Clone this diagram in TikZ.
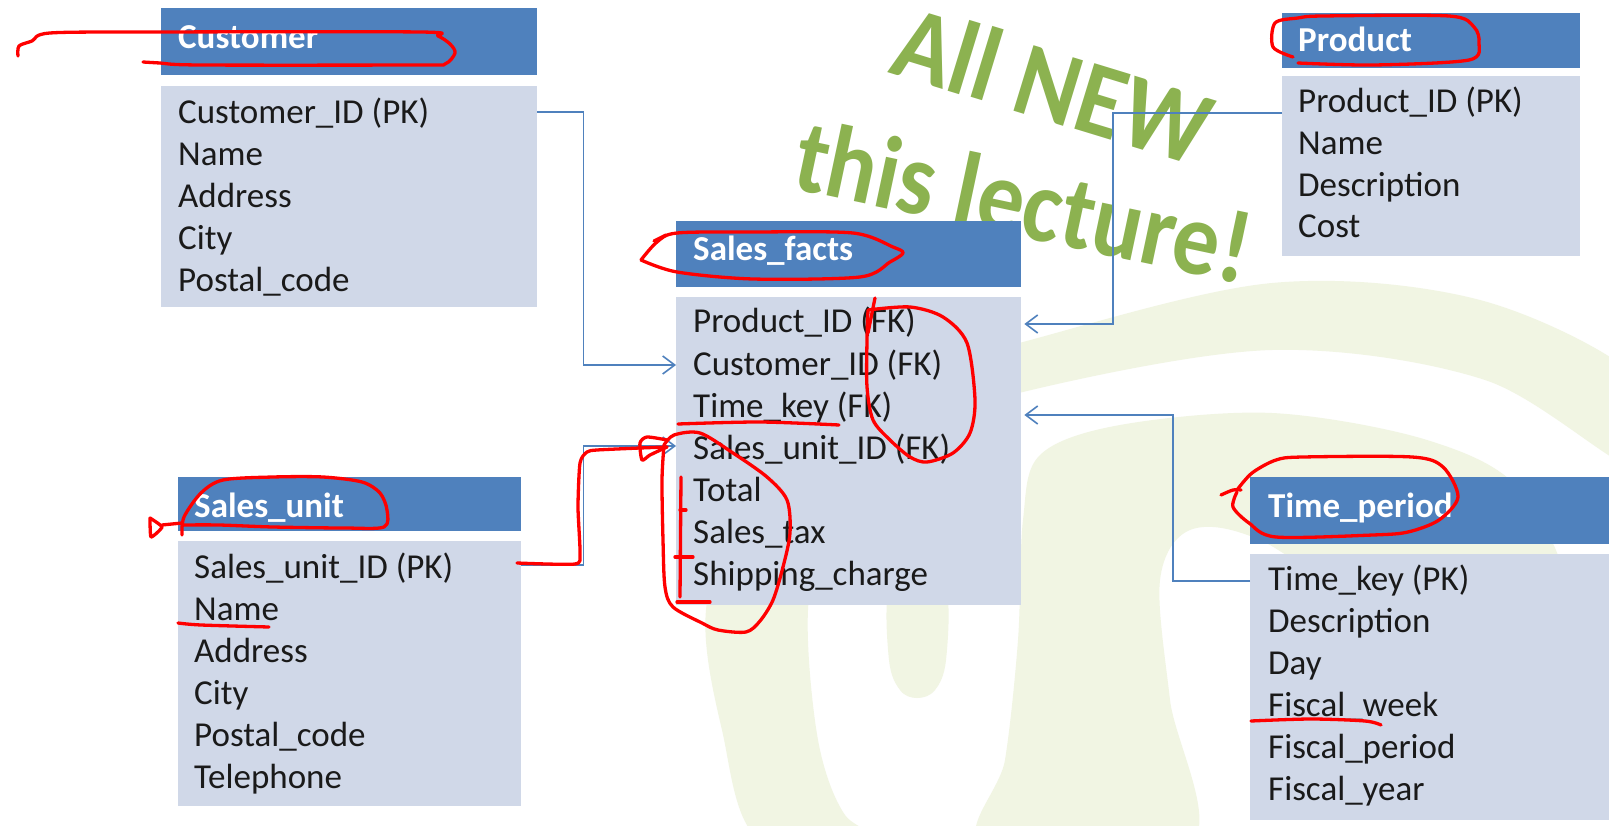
\documentclass[tikz,border=0pt]{standalone}
\usepackage{fontspec}
\setmainfont{Carlito}
\usetikzlibrary{arrows.meta}
\definecolor{hdrblue}{HTML}{4F81BD}
\definecolor{bodyblue}{HTML}{D0D8E8}
\definecolor{wash}{HTML}{F1F5E3}
\definecolor{wagreen}{HTML}{8CB250}
\definecolor{txt}{HTML}{1A1A1A}
\begin{document}
\begin{tikzpicture}[x=1pt,y=-1pt,
  font=\fontsize{35}{42}\selectfont,
  hdr/.style={fill=hdrblue, draw=none, inner sep=0pt, anchor=north west},
  bdy/.style={fill=bodyblue, draw=none, inner sep=0pt, anchor=north west},
  row/.style={anchor=base west, inner sep=0pt, text=txt},
  ttl/.style={anchor=base west, inner sep=0pt, text=white, font=\fontsize{35}{42}\selectfont\bfseries},
  conn/.style={draw=hdrblue, line width=1.6pt, -{Straight Barb[length=12pt,width=18pt,line width=1.6pt]}},
  ink/.style={draw=red, line width=3.3pt, line cap=round, line join=round},
  wa/.style={anchor=base west, inner sep=0pt, text=wagreen}]
\useasboundingbox (0,0) rectangle (1609,826);
\fill[white] (0,0) rectangle (1609,826);

% watermark
\fill[wash] plot[smooth cycle, tension=0.55] coordinates {(1640,380) (1480,300) (1272,283) (1023,342) (850,395) (745,490) (706,610) (722,730) (760,840) (890,845) (845,815) (818,740) (808,610) (830,500) (900,440) (1023,392) (1272,350) (1485,380) (1640,470)};
\fill[wash] plot[smooth cycle, tension=0.55] coordinates {(985,845) (1005,760) (1018,640) (1023,520) (1040,455) (1120,425) (1272,413) (1427,440) (1520,490) (1560,600) (1400,620) (1260,540) (1190,530) (1160,580) (1170,700) (1190,845)};
\fill[wash] plot[smooth cycle, tension=0.6] coordinates {(889,590) (889,660) (900,690) (917,698) (935,690) (946,660) (946,590) (917,580)};

% WordArt
\node[wa, font=\fontsize{96}{100}\selectfont\bfseries, rotate=-17, yscale=1.1] (wa1) at (887,72) {All NEW};
\node[wa, font=\fontsize{93}{100}\selectfont\bfseries, rotate=-12, yscale=1.12] (wa2) at (790,188) {this lecture!};

% Customer
\node[hdr, minimum width=376pt, minimum height=67pt] (custH) at (161,8) {};
\node[bdy, minimum width=376pt, minimum height=221pt] (custB) at (161,86) {};
\node[ttl] (cu0) at (178,49) {Customer};
\node[row] (cu1) at (178,124) {Customer\_ID (PK)};
\node[row] (cu2) at (178,166) {Name};
\node[row] (cu3) at (178,208) {Address};
\node[row] (cu4) at (178,250) {City};
\node[row] (cu5) at (178,292) {Postal\_code};

% Product
\node[hdr, minimum width=298pt, minimum height=55pt] (prodH) at (1282,13) {};
\node[bdy, minimum width=298pt, minimum height=180pt] (prodB) at (1282,76) {};
\node[ttl] (pr0) at (1298,52) {Product};
\node[row] (pr1) at (1298,113) {Product\_ID (PK)};
\node[row] (pr2) at (1298,155) {Name};
\node[row] (pr3) at (1298,197) {Description};
\node[row] (pr4) at (1298,238) {Cost};

% Sales_facts
\node[hdr, minimum width=345pt, minimum height=66pt] (factsH) at (676,221) {};
\node[bdy, minimum width=345pt, minimum height=308pt] (factsB) at (676,297) {};
\node[ttl] (sf0) at (693,261) {Sales\_facts};
\node[row] (sf1) at (693,333) {Product\_ID (FK)};
\node[row] (sf2) at (693,375) {Customer\_ID (FK)};
\node[row] (sf3) at (693,417) {Time\_key (FK)};
\node[row] (sf4) at (693,459) {Sales\_unit\_ID (FK)};
\node[row] (sf5) at (693,501) {Total};
\node[row] (sf6) at (693,543) {Sales\_tax};
\node[row] (sf7) at (693,585) {Shipping\_charge};

% Sales_unit
\node[hdr, minimum width=343pt, minimum height=54pt] (suH) at (178,477) {};
\node[bdy, minimum width=343pt, minimum height=265pt] (suB) at (178,541) {};
\node[ttl] (su0) at (194,517) {Sales\_unit};
\node[row] (su1) at (194,578) {Sales\_unit\_ID (PK)};
\node[row] (su2) at (194,620) {Name};
\node[row] (su3) at (194,662) {Address};
\node[row] (su4) at (194,704) {City};
\node[row] (su5) at (194,746) {Postal\_code};
\node[row] (su6) at (194,788) {Telephone};

% Time_period
\node[hdr, minimum width=359pt, minimum height=67pt] (timeH) at (1250,477) {};
\node[bdy, minimum width=359pt, minimum height=266pt] (timeB) at (1250,554) {};
\node[ttl] (tp0) at (1268,517) {Time\_period};
\node[row] (tp1) at (1268,590) {Time\_key (PK)};
\node[row] (tp2) at (1268,632) {Description};
\node[row] (tp3) at (1268,674) {Day};
\node[row] (tp4) at (1268,716) {Fiscal\_week};
\node[row] (tp5) at (1268,758) {Fiscal\_period};
\node[row] (tp6) at (1268,800) {Fiscal\_year};

% connectors
\draw[conn] ([yshift=-26pt]custB.north east) -- ++(46,0) |- ([yshift=-68pt]factsB.north west);
\draw[conn] ([yshift=-37pt]prodB.north west) -- ++(-169,0) |- ([yshift=-27pt,xshift=3pt]factsB.north east);
\draw[conn] ([yshift=-27pt]timeB.north west) -- ++(-77,0) |- ([yshift=-118pt,xshift=3pt]factsB.north east);
\draw[conn] ([yshift=-24pt]suB.north east) -- ++(62,0) |- ([yshift=-149pt]factsB.north west);

% red ink
\draw[ink] plot[smooth, tension=0.5] coordinates {(18,56) (19,46) (32,41) (50,33) (155,32) (420,32) (438,36) (450,44) (455,53) (445,64) (420,65) (200,65) (160,63) (143,62)};
\draw[ink] plot[smooth, tension=0.5] coordinates {(1293,57) (1273,47) (1275,23) (1298,18) (1323,16) (1449,16) (1474,27) (1479,43) (1469,60) (1374,65) (1298,63)};
\draw[ink] plot[smooth, tension=0.5] coordinates {(641,260) (657,242) (677,233) (753,232) (853,233) (893,247) (903,253) (890,262) (860,277) (753,279) (677,272) (641,260)};
\draw[ink] (654,241) -- (666,235);
\draw[ink] (875,298) -- (868,333);
\draw[ink] plot[smooth, tension=0.5] coordinates {(868,310) (910,307) (943,317) (967,343) (975,400) (970,433) (953,453) (927,462) (910,457) (890,440) (873,420) (867,387) (867,340) (868,310)};
\draw[ink] plot[smooth, tension=0.5] coordinates {(678,424) (760,422) (839,425)};
\draw[ink] plot[smooth, tension=0.4] coordinates {(517,563) (575,564) (580,553) (578,507) (580,463) (587,452) (597,450) (640,448) (667,447)};
\draw[ink] plot[smooth, tension=0.4] coordinates {(667,440) (647,437) (640,443) (642,460) (650,455) (667,447)};
\draw[ink] plot[smooth, tension=0.5] coordinates {(664,445) (674,435) (700,433) (733,453) (767,477) (787,500) (790,533) (783,567) (773,600) (760,621) (746,632) (718,630) (702,623) (673,607) (665,587) (663,540) (662,480) (664,445)};
\draw[ink] (681,477) -- (680,597);
\draw[ink] (680,510) -- (686,510);
\draw[ink] (675,557) -- (693,557);
\draw[ink] (677,602) -- (710,602);
\draw[ink] plot[smooth, tension=0.3] coordinates {(150,518) (162,527) (151,537) (150,518)};
\draw[ink] (162,525) -- (182,523);
\draw[ink] plot[smooth, tension=0.5] coordinates {(182,535) (184,517) (201,493) (223,480) (273,477) (323,477) (362,482) (380,493) (387,510) (384,527) (344,528) (273,527) (219,525) (182,525)};
\draw[ink] plot[smooth, tension=0.5] coordinates {(178,623) (201,625) (269,627)};
\draw[ink] plot[smooth, tension=0.5] coordinates {(1221,495) (1233,490) (1241,490)};
\draw[ink] plot[smooth, tension=0.5] coordinates {(1237,492) (1233,507) (1249,523) (1276,537) (1373,535) (1408,532) (1439,520) (1458,497) (1443,467) (1412,457) (1303,457) (1276,460) (1252,473) (1237,490)};
\draw[ink] plot[smooth, tension=0.5] coordinates {(1251,721) (1311,719) (1365,721) (1381,725)};
\end{tikzpicture}
\end{document}
